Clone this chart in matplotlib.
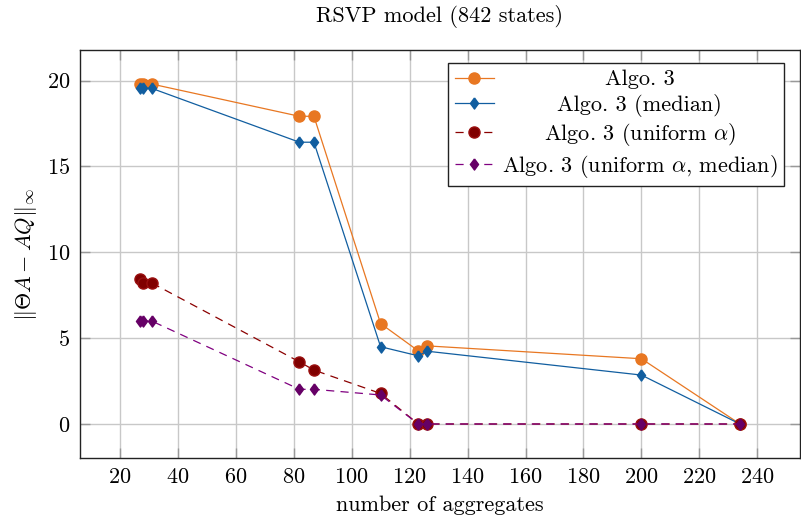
"""
RSVP model: error of the aggregated operator vs. number of aggregates
"""

import matplotlib
import matplotlib.pyplot as plt

matplotlib.use("Agg")

plt.rcParams["font.family"] = "serif"
plt.rcParams["font.serif"] = ["cmr10", "DejaVu Serif"]
plt.rcParams["mathtext.fontset"] = "cm"
plt.rcParams["axes.formatter.use_mathtext"] = True

# --------------------------------------------------
# Data
# --------------------------------------------------
n_aggregates = [27, 28, 31, 82, 87, 110, 123, 126, 200, 234]
algo3 = [19.8, 19.8, 19.8, 17.92, 17.92, 5.85, 4.26, 4.55, 3.8, 0.0]
algo3_median = [19.55, 19.55, 19.55, 16.41, 16.41, 4.5, 3.97, 4.24, 2.85, 0.0]
algo3_uniform = [8.47, 8.22, 8.22, 3.62, 3.14, 1.78, 0.0, 0.0, 0.0, 0.0]
algo3_uniform_median = [6.0, 6.0, 6.0, 2.02, 2.02, 1.69, 0.0, 0.0, 0.0, 0.0]

labels = [
    "Algo. 3",
    "Algo. 3 (median)",
    r"Algo. 3 (uniform $\alpha$)",
    r"Algo. 3 (uniform $\alpha$, median)",
]

x_ticks = list(range(20, 241, 20))
y_ticks = [0, 5, 10, 15, 20]

FS = 16

# pgfplots "diamond*" (a bit wider than matplotlib's thin diamond)
DIAMOND = [(0, 1), (0.73, 0), (0, -1), (-0.73, 0), (0, 1)]

fig = plt.figure(figsize=(8.01, 5.18), dpi=100)
ax = fig.add_axes([80 / 801, 60 / 518, 720 / 801, 408 / 518])

ax.plot(n_aggregates, algo3, color="#e87722", lw=0.9, marker="o", ms=8,
        label=labels[0], zorder=3)
ax.plot(n_aggregates, algo3_median, color="#115ea0", lw=0.9, marker=DIAMOND, ms=8,
        label=labels[1], zorder=3)
ax.plot(n_aggregates, algo3_uniform, color="#8b0000", lw=0.9, marker="o", ms=8,
        dashes=(6.5, 5), mfc="#800000", mec="#9a1010", label=labels[2], zorder=3)
ax.plot(n_aggregates, algo3_uniform_median, color="#800080", lw=0.9, marker=DIAMOND, ms=8,
        dashes=(6.5, 5), mfc="#660066", mec="#660066", label=labels[3], zorder=3)

# pgfplots-like enlarged limits
ax.set_xlim(6.3, 254.7)
ax.set_ylim(-1.98, 21.78)
ax.set_xticks(x_ticks)
ax.set_yticks(y_ticks)

ax.grid(True, color="#c8c8c8", lw=1.0, zorder=0)
ax.tick_params(direction="in", length=7, width=1.0, color="#999999",
               top=True, right=True, labelsize=FS, pad=7)
for s in ax.spines.values():
    s.set_color("#222222")
    s.set_linewidth(1.0)

ax.set_title("RSVP model (842 states)", fontsize=FS, pad=20)
ax.set_xlabel("number of aggregates", fontsize=FS, labelpad=6)
ax.set_ylabel(r"$\|\Theta A - AQ\|_\infty$", fontsize=FS, labelpad=6)

leg = ax.legend(loc="upper right", bbox_to_anchor=(0.9778, 0.968), fontsize=FS,
                frameon=True, fancybox=False, edgecolor="#222222", framealpha=1,
                handlelength=1.75, handletextpad=0.35, borderpad=0.3,
                labelspacing=0.2, borderaxespad=0)
leg.get_frame().set_linewidth(1.0)

# centre the legend entries like pgfplots does
fig.canvas.draw()
renderer = fig.canvas.get_renderer()
texts = leg.get_texts()
widths = [t.get_window_extent(renderer).width for t in texts]
wmax = max(widths)
for t, w in zip(texts, widths):
    t.set_position(((wmax - w) / 2, 0))

plt.savefig("out.png", dpi=100)
plt.close()
